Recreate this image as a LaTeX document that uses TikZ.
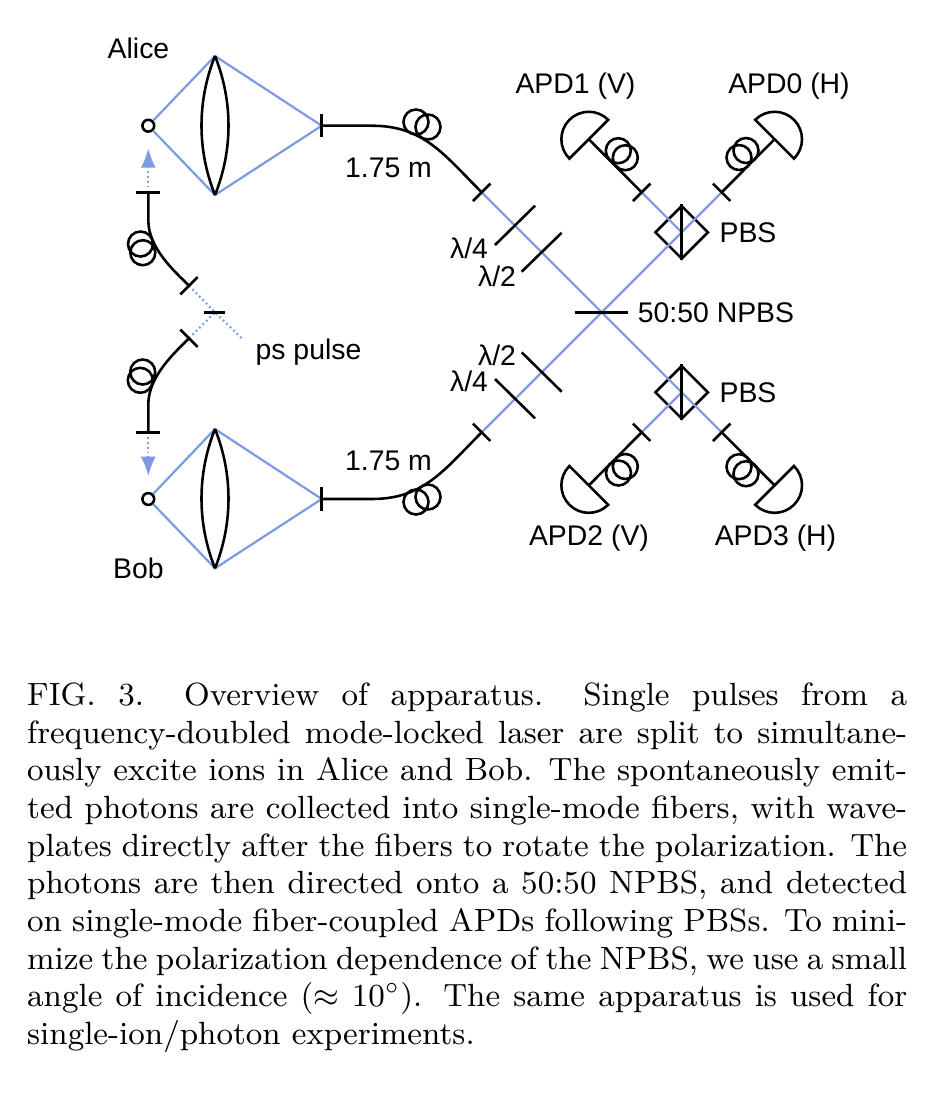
\documentclass[tikz,border=0pt]{standalone}
\usepackage{fontspec}
\usepackage{tikz}
\usetikzlibrary{shapes.geometric, arrows.meta, positioning}
\newfontfamily\labelfont{Liberation Sans}
\definecolor{beamblue}{RGB}{125,155,225}
\tikzstyle{optic} = [draw, black, line width=0.72pt]
\tikzstyle{beam} = [draw, beamblue, line width=0.62pt]
\tikzstyle{pulse} = [draw, beamblue, line width=0.62pt, dash pattern=on 0.5pt off 0.85pt]
\tikzstyle{ion} = [draw, black, line width=0.72pt, circle, inner sep=0pt, minimum size=3.3pt]
\tikzstyle{pbs} = [draw, black, line width=0.72pt, diamond, aspect=1, inner sep=0pt, minimum size=15pt]
\tikzstyle{tag} = [inner sep=0pt, font=\labelfont\fontsize{7.95}{9}\selectfont]
\newcommand{\coil}[4]{
    \draw [optic] (#1,#2) circle [radius=3.5pt];
    \draw [optic] (#3,#4) circle [radius=3.5pt];
}
\newcommand{\lens}[2]{
    \draw [optic] (#1) .. controls +(-18,45) and +(-18,-45) .. (#2);
    \draw [optic] (#1) .. controls +(18,45) and +(18,-45) .. (#2);
}

\begin{document}
\begin{tikzpicture}[x=0.28pt, y=-0.28pt, >=latex]
    \useasboundingbox (0,0) rectangle (928,1102);

    % ions and collection lenses
    \node [ion] (alice) at (148.3,125.7) {};
    \node [ion] (bob) at (148.3,499) {};
    \coordinate (lensAtop) at (215,56);
    \coordinate (lensAbot) at (215,195);
    \coordinate (lensBtop) at (215,429);
    \coordinate (lensBbot) at (215,568.3);
    \coordinate (fibA) at (321.7,125.7);
    \coordinate (fibB) at (321.7,499);
    \draw [beam] (alice) -- (lensAtop) -- (fibA) -- (lensAbot) -- (alice);
    \draw [beam] (bob) -- (lensBtop) -- (fibB) -- (lensBbot) -- (bob);
    \lens{lensAtop}{lensAbot}
    \lens{lensBtop}{lensBbot}

    % free space beams
    \coordinate (npbs) at (601.7,312.3);
    \coordinate (outA) at (481.7,192.3);
    \coordinate (outB) at (481.7,432.3);
    \coordinate (tipV1) at (641.7,192.3);
    \coordinate (tipH0) at (721.7,192.3);
    \coordinate (tipV2) at (641.7,432.3);
    \coordinate (tipH3) at (721.7,432.3);
    \node [pbs] (pbsup) at (681.7,232.3) {};
    \node [pbs] (pbsdown) at (681.7,392.3) {};
    \draw [beam] (outA) -- (npbs) -- (tipH3);
    \draw [beam] (outB) -- (npbs) -- (tipH0);
    \draw [beam] (pbsup.center) -- (tipV1);
    \draw [beam] (pbsdown.center) -- (tipV2);
    \draw [optic] (pbsup.north) -- (pbsup.south);
    \draw [optic] (pbsdown.north) -- (pbsdown.south);
    \draw [optic] (npbs) +(-26.7,0) -- +(26.7,0);

    % wave plates
    \draw [optic] (495,245) -- (535,205.7);
    \draw [optic] (521.7,271.7) -- (561.7,232.7);
    \draw [optic] (521.7,352.3) -- (561.7,391.7);
    \draw [optic] (495,379) -- (535,418.3);

    % long fibers
    \draw [optic] (fibA) +(0,-11.7) -- +(0,11.7);
    \draw [optic] (fibB) +(0,-11.7) -- +(0,11.7);
    \draw [optic] (fibA) -- ++(50,0) .. controls +(52,0) and +(-38,-38) .. (outA);
    \draw [optic] (fibB) -- ++(50,0) .. controls +(52,0) and +(-38,38) .. (outB);
    \draw [optic] (outA) +(-8.7,8.7) -- +(8.7,-8.7);
    \draw [optic] (outB) +(-8.7,-8.7) -- +(8.7,8.7);
    \coil{416}{122}{428}{127}
    \coil{416}{502}{428}{497}

    % detectors
    \coordinate (apdV1) at (588.8,139.2);
    \coordinate (apdH0) at (774.6,139.2);
    \coordinate (apdV2) at (588.8,485.4);
    \coordinate (apdH3) at (774.6,485.4);
    \draw [optic] (tipV1) -- (apdV1);
    \draw [optic] (tipH0) -- (apdH0);
    \draw [optic] (tipV2) -- (apdV2);
    \draw [optic] (tipH3) -- (apdH3);
    \draw [optic] (tipV1) +(-8.7,8.7) -- +(8.7,-8.7);
    \draw [optic] (tipH0) +(-8.7,-8.7) -- +(8.7,8.7);
    \draw [optic] (tipV2) +(-8.7,-8.7) -- +(8.7,8.7);
    \draw [optic] (tipH3) +(-8.7,8.7) -- +(8.7,-8.7);
    \draw [optic] (apdV1) +(19.4,-19.4) arc [start angle=45, end angle=225, radius=7.68pt] -- cycle;
    \draw [optic] (apdH0) +(-19.4,-19.4) arc [start angle=135, end angle=-45, radius=7.68pt] -- cycle;
    \draw [optic] (apdV2) +(-19.4,-19.4) arc [start angle=135, end angle=315, radius=7.68pt] -- cycle;
    \draw [optic] (apdH3) +(19.4,-19.4) arc [start angle=45, end angle=-135, radius=7.68pt] -- cycle;
    \coil{618.3}{150.7}{625.3}{157.7}
    \coil{746}{150.5}{739}{157.5}
    \coil{618.5}{473}{625.3}{466.5}
    \coil{739}{466.7}{746}{473.7}

    % excitation path
    \coordinate (split) at (215,312.3);
    \coordinate (pumpin) at (242.7,339.3);
    \coordinate (pumpA) at (189,285.7);
    \coordinate (pumpB) at (189,338.3);
    \coordinate (portA) at (148.3,192.3);
    \coordinate (portB) at (148.3,432.3);
    \coordinate (tipA) at (148.3,148.3);
    \coordinate (tipB) at (148.3,476);
    \draw [pulse] (pumpA) -- (split) -- (pumpin);
    \draw [pulse] (pumpB) -- (split);
    \draw [pulse, -{Latex[length=5.4pt, width=4.2pt]}] (portA) -- (tipA);
    \draw [pulse, -{Latex[length=5.4pt, width=4.2pt]}] (portB) -- (tipB);
    \draw [optic] (split) +(-10.5,0) -- +(10.5,0);
    \draw [optic] (portA) +(-12,0) -- +(12,0);
    \draw [optic] (portB) +(-12,0) -- +(12,0);
    \draw [optic] (pumpA) +(-8.7,8.7) -- +(8.7,-8.7);
    \draw [optic] (pumpB) +(-8.7,-8.7) -- +(8.7,8.7);
    \draw [optic] (portA) -- ++(0,28) .. controls +(0,28) and +(-14,-14) .. (pumpA);
    \draw [optic] (portB) -- ++(0,-28) .. controls +(0,-28) and +(-14,14) .. (pumpB);
    \coil{140.5}{244}{142.8}{252.7}
    \coil{140.3}{380.3}{142.7}{372}

    % labels
    \node [tag] (namealice) at (138.5,48) {Alice};
    \node [tag] (namebob) at (138.5,568) {Bob};
    \node [tag] (lengthA) at (388.5,168) {1.75 m};
    \node [tag] (lengthB) at (388.5,461) {1.75 m};
    \node [tag] (pslabel) at (308.5,352) {ps pulse};
    \node [tag] (quarterA) at (469,248) {λ/4};
    \node [tag] (halfA) at (497,276) {λ/2};
    \node [tag] (halfB) at (497,355) {λ/2};
    \node [tag] (quarterB) at (469,381) {λ/4};
    \node [tag] (pbsupname) at (748,233) {PBS};
    \node [tag] (pbsdownname) at (748,393) {PBS};
    \node [tag] (npbsname) at (716,313) {50:50 NPBS};
    \node [tag] (nameV1) at (575.5,86) {APD1 (V)};
    \node [tag] (nameH0) at (789,86) {APD0 (H)};
    \node [tag] (nameV2) at (589,538) {APD2 (V)};
    \node [tag] (nameH3) at (775.5,538) {APD3 (H)};

    % caption
    \node [anchor=north west, inner sep=0pt, text width=246.4pt, align=justify,
        font=\fontsize{9}{10.55}\selectfont] (caption) at (26.5,682) {FIG. 3.\hskip 1.25em Overview of apparatus.\hskip 1.25em Single pulses from a frequency-doubled mode-locked laser are split to simultaneously excite ions in Alice and Bob. The spontaneously emitted photons are collected into single-mode fibers, with waveplates directly after the fibers to rotate the polarization. The photons are then directed onto a 50:50 NPBS, and detected on single-mode fiber-coupled APDs following PBSs. To minimize the polarization dependence of the NPBS, we use a small angle of incidence ($\approx10^\circ$). The same apparatus is used for single-ion/photon experiments.};
\end{tikzpicture}
\end{document}
